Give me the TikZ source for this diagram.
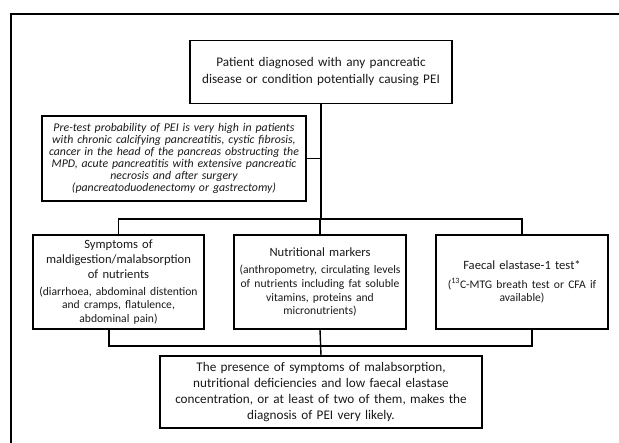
\documentclass[tikz,border=0pt]{standalone}
\usepackage{fontspec}
\setmainfont{Carlito}
\newcommand\bodysize{\fontsize{12.6}{15}\selectfont}
\newcommand\detailsize{\fontsize{11.6}{13.7}\selectfont}
\begin{document}
\begin{tikzpicture}[x=1pt,y=-1pt,
  box/.style={draw, line width=1.4pt, align=center, inner sep=0pt, text=black!90},
  link/.style={line width=1.4pt}]
  \useasboundingbox (0,0) rectangle (619,443);
  \draw[line width=1.8pt] (11,443) -- (11,14) -- (619,14);
  \node[box, text width=262pt, minimum height=63pt, font=\fontsize{13.2}{17}\selectfont] (patient) at (321,72)
    {Patient diagnosed with any pancreatic\\disease or condition potentially causing PEI};
  \node[box, text width=264pt, minimum height=85pt, font=\fontsize{11.8}{12.1}\selectfont\itshape] (pretest) at (174,158.5)
    {Pre-test probability of PEI is very high in patients\\with chronic calcifying pancreatitis, cystic fibrosis,\\cancer in the head of the pancreas obstructing the\\MPD, acute pancreatitis with extensive pancreatic\\necrosis and after surgery\\(pancreatoduodenectomy or gastrectomy)};
  \node[box, text width=171pt, minimum height=94pt, font=\bodysize] (symptoms) at (118.5,282)
    {Symptoms of\\maldigestion/malabsorption\\of nutrients\par\vspace{3pt}
     {\detailsize (diarrhoea, abdominal distention\\and cramps, flatulence,\\abdominal pain)\par}};
  \node[box, text width=172pt, minimum height=94pt, font=\bodysize] (markers) at (320,282)
    {Nutritional markers\par\vspace{4pt}
     {\detailsize (anthropometry, circulating levels\\of nutrients including fat soluble\\vitamins, proteins and\\micronutrients)\par}};
  \node[box, text width=172pt, minimum height=94pt, font=\bodysize] (elastase) at (522,282)
    {Faecal elastase-1 test*\par\vspace{5pt}
     {\detailsize (\textsuperscript{13}C-MTG breath test or CFA if\\available)\par}};
  \node[box, text width=322pt, minimum height=72pt, font=\fontsize{13.2}{16}\selectfont] (likely) at (321,392)
    {The presence of symptoms of malabsorption,\\nutritional deficiencies and low faecal elastase\\concentration, or at least of two of them, makes the\\diagnosis of PEI very likely.};
  \coordinate (split) at (321,219);
  \coordinate (joinleft) at (109,346);
  \coordinate (joinright) at (532,346);
  \draw[link] (patient.south) -- (patient.south |- split);
  \draw[link] (pretest.east) -- (pretest.east -| patient.south);
  \draw[link] (symptoms.north) -- (symptoms.north |- split) -- (elastase.north |- split) -- (elastase.north);
  \draw[link] (markers.north) -- (markers.north |- split);
  \draw[link] (symptoms.south -| joinleft) -- (joinleft) -- (joinright) -- (elastase.south -| joinright);
  \draw[link] (markers.south) -- (likely.north);
\end{tikzpicture}
\end{document}
